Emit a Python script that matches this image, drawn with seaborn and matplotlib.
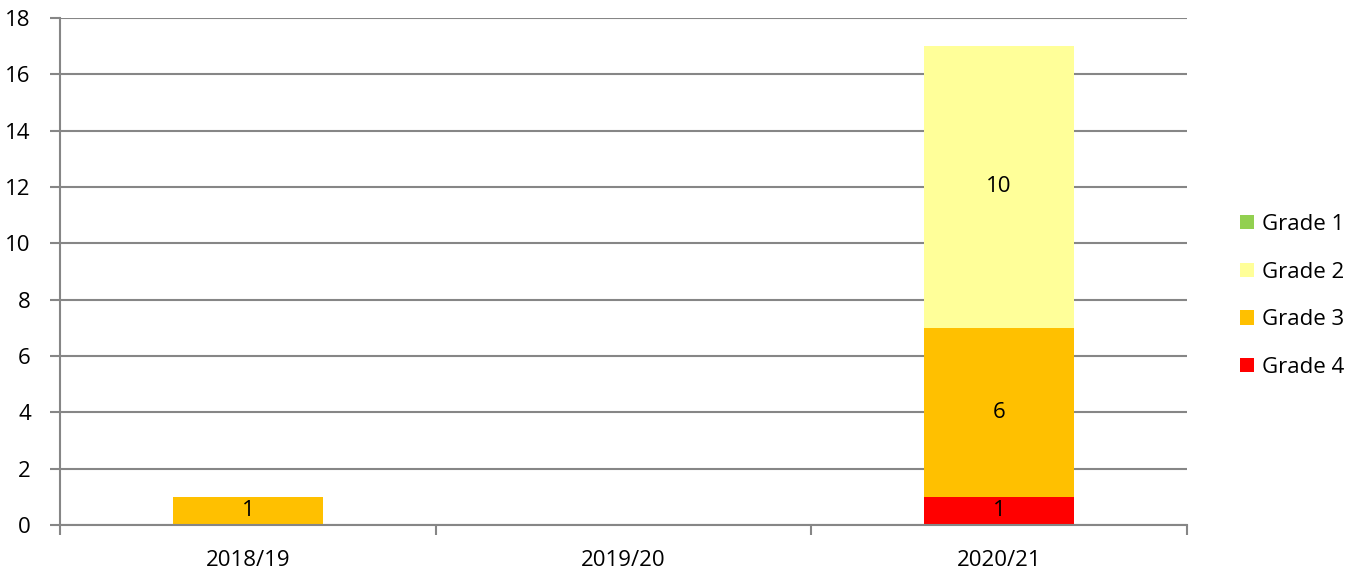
import matplotlib
matplotlib.use("Agg")
import matplotlib.pyplot as plt
import seaborn as sns
import pandas as pd
import numpy as np
from matplotlib.patches import Patch

years = ["2018/19", "2019/20", "2020/21"]
grade1 = [0, 0, 0]
grade2 = [0, 0, 10]
grade3 = [1, 0, 6]
grade4 = [0, 0, 1]
series_names = ["Grade 1", "Grade 2", "Grade 3", "Grade 4"]
colors = {"Grade 1": "#92D050", "Grade 2": "#FFFF99", "Grade 3": "#FFC000", "Grade 4": "#FF0000"}
yticks = list(range(0, 19, 2))

sns.set_theme(style="white")
plt.rcParams['font.family'] = ['Open Sans', 'DejaVu Sans']
plt.rcParams['text.color'] = 'black'
plt.rcParams['xtick.color'] = 'black'
plt.rcParams['ytick.color'] = 'black'
FS = 16

fig = plt.figure(figsize=(13.62, 5.75), dpi=100)
ax = fig.add_axes([60/1362, 1 - 525/575, (1187-60)/1362, (525-18)/575])

grid_c = "#868686"
ax.set_ylim(0, 18)
ax.set_yticks(yticks)
ax.yaxis.grid(True, color=grid_c, linewidth=1.5)
ax.set_axisbelow(True)

stack_order = [("Grade 4", grade4), ("Grade 3", grade3), ("Grade 2", grade2), ("Grade 1", grade1)]
bottom = np.zeros(len(years))
for name, vals in stack_order:
    df = pd.DataFrame({"year": years, "value": vals})
    sns.barplot(data=df, x="year", y="value", color=colors[name], width=0.4,
                bottom=bottom, ax=ax, saturation=1, linewidth=0, order=years)
    for i, v in enumerate(vals):
        if v > 0:
            ax.text(i, bottom[i] + v / 2, str(v), ha="center", va="center",
                    fontsize=FS, color="black")
    bottom = bottom + np.array(vals)

ax.set_xlim(-0.5, 2.5)
ax.set_xlabel("")
ax.set_ylabel("")
for s in ["top", "right"]:
    ax.spines[s].set_visible(False)
ax.spines["left"].set_color(grid_c)
ax.spines["left"].set_linewidth(1.5)
ax.spines["bottom"].set_color(grid_c)
ax.spines["bottom"].set_linewidth(1.5)

ax.set_xticks([0, 1, 2])
ax.set_xticklabels(years, fontsize=FS)
ax.set_xticks([-0.5, 0.5, 1.5, 2.5], minor=True)
ax.tick_params(axis="x", which="major", length=0, pad=18, labelcolor="black")
ax.tick_params(axis="x", which="minor", length=7, width=1.5, color=grid_c, bottom=True)
ax.tick_params(axis="y", which="major", length=7, width=1.5, color=grid_c, left=True,
               labelsize=FS, pad=14, labelcolor="black")

handles = [Patch(facecolor=colors[n], edgecolor="none") for n in series_names]
fig.legend(handles, series_names, loc="center left", bbox_to_anchor=(1220/1362, 1 - 296/575),
           frameon=False, fontsize=FS, handlelength=0.62, handleheight=0.62,
           handletextpad=0.35, labelspacing=1.2, labelcolor="black")

fig.savefig("out.png", dpi=100)
